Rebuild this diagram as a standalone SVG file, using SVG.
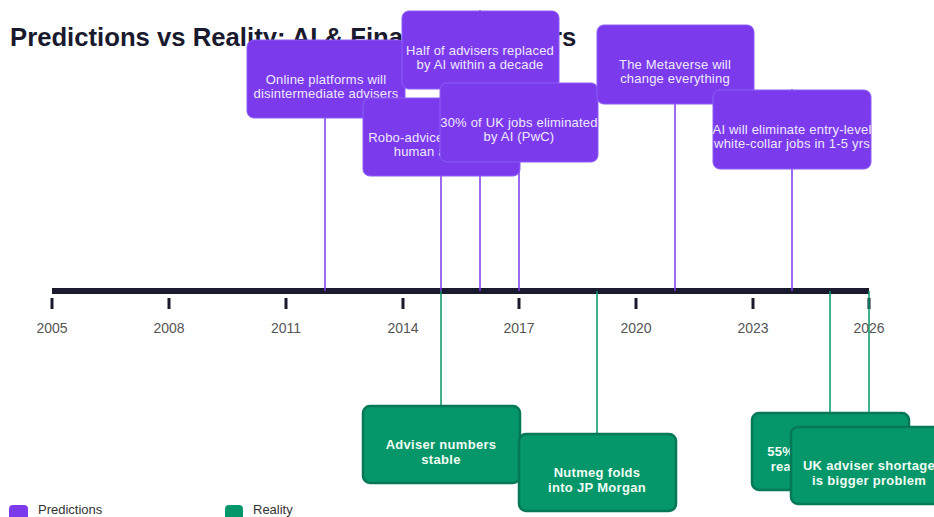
<svg xmlns="http://www.w3.org/2000/svg" width="934" height="517" viewBox="0 0 934 517">
<style>
  .title{font-family:"Liberation Sans",Arial,sans-serif;font-weight:bold;font-size:25.7px;fill:#1a1a2e}
  .year{font-family:"Liberation Sans",Arial,sans-serif;font-size:14px;fill:#555;text-anchor:middle}
  .pbox{fill:#7c3aed;stroke:#8b5cf6;stroke-width:1}
  .ptxt{font-family:"Liberation Sans",Arial,sans-serif;font-size:13px;fill:#ede9fe;text-anchor:middle;letter-spacing:0.2px}
  .gbox{fill:#059669;stroke:#047857;stroke-width:2.5}
  .gtxt{font-family:"Liberation Sans",Arial,sans-serif;font-size:13px;font-weight:bold;fill:#f0fdf4;text-anchor:middle;letter-spacing:0.3px}
  .pline{stroke:#7c3aed;stroke-width:1.5}
  .gline{stroke:#059669;stroke-width:1.5}
  .tick{stroke:#1a1a2e;stroke-width:3}
  .leg{font-family:"Liberation Sans",Arial,sans-serif;font-size:13px;fill:#333}
</style>
<rect width="934" height="517" fill="#ffffff"/>
<text class="title" x="10" y="46">Predictions vs Reality: AI &amp; Financial Advisers</text>

<g id="axis">
  <line x1="52" y1="291" x2="869" y2="291" stroke="#1a1a2e" stroke-width="6"/>
  <line class="tick" x1="52" y1="298" x2="52" y2="309"/>
  <line class="tick" x1="169" y1="298" x2="169" y2="309"/>
  <line class="tick" x1="286" y1="298" x2="286" y2="309"/>
  <line class="tick" x1="403" y1="298" x2="403" y2="309"/>
  <line class="tick" x1="519" y1="298" x2="519" y2="309"/>
  <line class="tick" x1="636" y1="298" x2="636" y2="309"/>
  <line class="tick" x1="753" y1="298" x2="753" y2="309"/>
  <line class="tick" x1="869" y1="298" x2="869" y2="309"/>
  <text class="year" x="52" y="333">2005</text>
  <text class="year" x="169" y="333">2008</text>
  <text class="year" x="286" y="333">2011</text>
  <text class="year" x="403" y="333">2014</text>
  <text class="year" x="519" y="333">2017</text>
  <text class="year" x="636" y="333">2020</text>
  <text class="year" x="753" y="333">2023</text>
  <text class="year" x="869" y="333">2026</text>
</g>

<g id="connectors">
  <line class="pline" x1="325" y1="40" x2="325" y2="291"/>
  <line class="pline" x1="441" y1="98" x2="441" y2="291"/>
  <line class="pline" x1="480" y1="10" x2="480" y2="291"/>
  <line class="pline" x1="519" y1="83" x2="519" y2="291"/>
  <line class="pline" x1="675" y1="25" x2="675" y2="291"/>
  <line class="pline" x1="792" y1="89" x2="792" y2="291"/>
  <line class="gline" x1="441" y1="291" x2="441" y2="405"/>
  <line class="gline" x1="597" y1="291" x2="597" y2="433"/>
  <line class="gline" x1="830" y1="291" x2="830" y2="412"/>
  <line class="gline" x1="869" y1="291" x2="869" y2="426"/>
</g>

<g id="p-online">
  <rect class="pbox" x="247" y="40" width="158" height="78" rx="7"/>
  <text class="ptxt" x="326" y="83.5">Online platforms will</text>
  <text class="ptxt" x="326" y="97.5">disintermediate advisers</text>
</g>
<g id="p-robo">
  <rect class="pbox" x="363" y="98" width="157" height="78" rx="7"/>
  <text class="ptxt" x="441" y="141.5">Robo-advice will replace</text>
  <text class="ptxt" x="441" y="155.5">human advisers</text>
</g>
<g id="p-half">
  <rect class="pbox" x="402" y="11" width="157" height="78" rx="7"/>
  <text class="ptxt" x="480" y="54.5">Half of advisers replaced</text>
  <text class="ptxt" x="480" y="68.5">by AI within a decade</text>
</g>
<g id="p-pwc">
  <rect class="pbox" x="440" y="83" width="158" height="79" rx="7"/>
  <text class="ptxt" x="519" y="126.5">30% of UK jobs eliminated</text>
  <text class="ptxt" x="519" y="140.5">by AI (PwC)</text>
</g>
<g id="p-metaverse">
  <rect class="pbox" x="597" y="25" width="157" height="79" rx="7"/>
  <text class="ptxt" x="675" y="68.5">The Metaverse will</text>
  <text class="ptxt" x="675" y="82.5">change everything</text>
</g>
<g id="p-entry">
  <rect class="pbox" x="713" y="90" width="158" height="79" rx="7"/>
  <text class="ptxt" x="792" y="133.5">AI will eliminate entry-level</text>
  <text class="ptxt" x="792" y="147.5">white-collar jobs in 1-5 yrs</text>
</g>

<g id="r-stable">
  <rect class="gbox" x="363" y="406" width="157" height="77" rx="7"/>
  <text class="gtxt" x="441" y="449">Adviser numbers</text>
  <text class="gtxt" x="441" y="464">stable</text>
</g>
<g id="r-nutmeg">
  <rect class="gbox" x="519" y="434" width="157" height="77" rx="7"/>
  <text class="gtxt" x="597" y="477">Nutmeg folds</text>
  <text class="gtxt" x="597" y="492">into JP Morgan</text>
</g>
<g id="r-55">
  <rect class="gbox" x="752" y="413" width="157" height="77" rx="7"/>
  <text class="gtxt" x="830" y="456">55% of clients want</text>
  <text class="gtxt" x="830" y="471">real human advice</text>
</g>
<g id="r-shortage">
  <rect class="gbox" x="791" y="427" width="157" height="77" rx="7"/>
  <text class="gtxt" x="869" y="470">UK adviser shortage</text>
  <text class="gtxt" x="869" y="485">is bigger problem</text>
</g>

<g id="legend">
  <rect x="9" y="505" width="19" height="18" rx="4" fill="#7c3aed"/>
  <text class="leg" x="38" y="514">Predictions</text>
  <rect x="225" y="505" width="18" height="18" rx="4" fill="#059669"/>
  <text class="leg" x="253" y="514">Reality</text>
</g>
</svg>
